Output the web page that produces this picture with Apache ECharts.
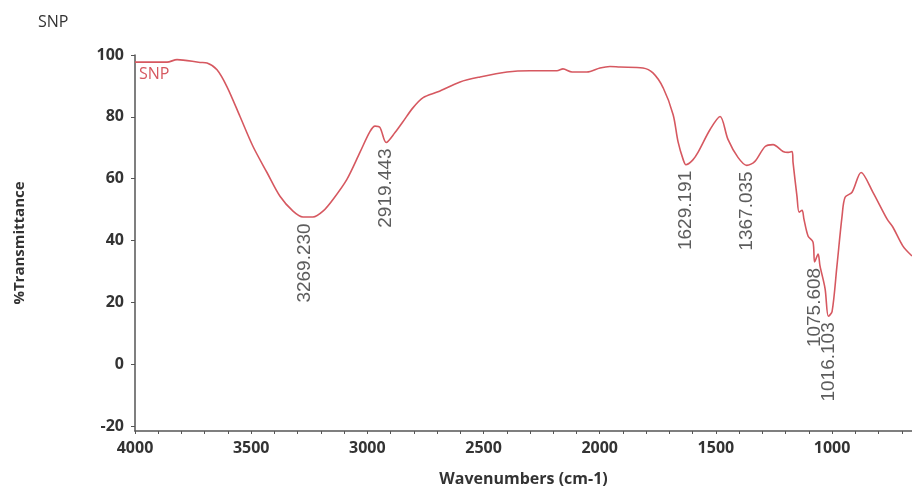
<!DOCTYPE html>
<html>
<head>
<meta charset="utf-8">
<script src="https://cdn.jsdelivr.net/npm/echarts@6/dist/echarts.min.js"></script>
<style>
  html, body { margin: 0; padding: 0; background: #ffffff; }
  #chart { width: 912px; height: 492px; }
</style>
</head>
<body>
<div id="chart"></div>
<script>
// Spectrum: wavenumber (cm-1) and %Transmittance
var wavenumbers = [4000, 3862, 3819, 3720, 3690, 3647, 3604, 3548, 3492, 3432, 3376, 3320, 3277, 3234, 3191, 3148, 3088, 3032, 2989, 2967, 2946, 2919, 2881, 2847, 2804, 2760, 2696, 2601, 2515, 2399, 2300, 2184, 2158, 2119, 2055, 1999, 1956, 1913, 1814, 1771, 1727, 1684, 1663, 1640, 1629, 1600, 1577, 1525, 1482, 1448, 1405, 1367, 1332, 1288, 1254, 1211, 1189, 1172, 1168, 1151, 1142, 1129, 1121, 1103, 1082, 1075, 1060, 1052, 1030, 1016, 1000, 979, 957, 944, 914, 875, 824, 763, 738, 695, 656];
var transmittance = [97.7, 97.7, 98.5, 97.6, 97.4, 95.2, 89.7, 80.1, 70.4, 62.0, 54.3, 49.5, 47.6, 47.6, 49.5, 53.3, 59.8, 68.5, 75.2, 77.0, 76.6, 71.7, 74.9, 78.4, 82.9, 86.2, 88.1, 91.3, 92.9, 94.5, 94.9, 94.9, 95.5, 94.5, 94.5, 95.8, 96.3, 96.1, 95.8, 94.2, 89.4, 80.7, 72.0, 66.0, 64.5, 66.0, 68.5, 75.9, 80.1, 72.7, 66.9, 64.3, 65.6, 70.4, 71.0, 68.8, 68.5, 68.8, 65.3, 54.3, 49.2, 49.8, 46.9, 41.4, 39.5, 33.1, 35.6, 31.8, 24.4, 15.5, 17.0, 31.8, 47.9, 54.0, 55.6, 62.0, 55.6, 46.9, 44.3, 38.2, 35.0];

// Labelled peaks
var peakWavenumbers = [3269.230, 2919.443, 1629.191, 1367.035, 1075.608, 1016.103];
var peakValues = [47.5, 71.7, 64.5, 64.3, 33.1, 15.5];
var peakLabels = ['3269.230', '2919.443', '1629.191', '1367.035', '1075.608', '1016.103'];

// Axis ticks
var xTickLabels = [4000, 3500, 3000, 2500, 2000, 1500, 1000];
var xMinorTicks = [4000, 3900, 3800, 3700, 3600, 3500, 3400, 3300, 3200, 3100, 3000, 2900, 2800, 2700, 2600, 2500, 2400, 2300, 2200, 2100, 2000, 1900, 1800, 1700, 1600, 1500, 1400, 1300, 1200, 1100, 1000, 900, 800, 700];
var yTickLabels = [-20, 0, 20, 40, 60, 80, 100];

var seriesName = 'SNP';
var chartTitle = 'SNP';

var lineData = wavenumbers.map(function (w, i) { return [w, transmittance[i]]; });
var peakData = peakWavenumbers.map(function (w, i) {
  return { value: [w, peakValues[i]], name: peakLabels[i] };
});

var chart = echarts.init(document.getElementById('chart'), null, { renderer: 'canvas' });
var axisColor = '#555555';
var textColor = '#333333';
var lineColor = '#d65860';
var boldFont = '"Open Sans", "Noto Sans", sans-serif';

chart.setOption({
  animation: false,
  backgroundColor: '#ffffff',
  title: {
    text: chartTitle,
    left: 33,
    top: 9,
    textStyle: { fontFamily: boldFont, fontSize: 16, fontWeight: 'normal', color: textColor }
  },
  legend: {
    data: [seriesName],
    left: 129,
    top: 61,
    icon: 'none',
    itemWidth: 0,
    itemHeight: 0,
    textStyle: { fontFamily: boldFont, fontSize: 16, color: lineColor }
  },
  grid: { left: 135, right: 0, top: 55, bottom: 59 },
  xAxis: {
    type: 'value',
    inverse: true,
    min: 656,
    max: 4000,
    name: 'Wavenumbers (cm-1)',
    nameLocation: 'middle',
    nameGap: 40,
    nameTextStyle: { fontFamily: boldFont, fontSize: 16, fontWeight: 'bold', color: textColor },
    axisLine: { show: true, onZero: false, lineStyle: { color: axisColor, width: 1.5 } },
    axisTick: { show: true, inside: false, length: 3, customValues: xMinorTicks, lineStyle: { color: axisColor } },
    axisLabel: {
      customValues: xTickLabels,
      formatter: function (v) { return String(v); },
      margin: 9,
      fontFamily: boldFont, fontSize: 16, fontWeight: 'bold', color: textColor
    },
    splitLine: { show: false }
  },
  yAxis: {
    type: 'value',
    min: -21.6,
    max: 100,
    name: '%Transmittance',
    nameLocation: 'middle',
    nameRotate: 90,
    nameGap: 108,
    nameTextStyle: { fontFamily: boldFont, fontSize: 15, fontWeight: 'bold', color: textColor },
    axisLine: { show: true, onZero: false, lineStyle: { color: axisColor, width: 1.5 } },
    axisTick: { show: true, inside: false, length: 4, customValues: yTickLabels, lineStyle: { color: axisColor } },
    axisLabel: {
      customValues: yTickLabels,
      formatter: function (v) { return String(v); },
      margin: 11,
      fontFamily: boldFont, fontSize: 16, fontWeight: 'bold', color: textColor
    },
    splitLine: { show: false }
  },
  series: [
    {
      name: seriesName,
      type: 'line',
      data: lineData,
      showSymbol: false,
      smooth: 0.3,
      lineStyle: { color: lineColor, width: 1.6 },
      itemStyle: { color: lineColor },
      z: 3
    },
    {
      name: 'peaks',
      type: 'scatter',
      data: peakData,
      symbolSize: 0,
      silent: true,
      z: 4,
      label: {
        show: true,
        formatter: function (p) { return p.name; },
        position: [0, 6],
        rotate: 90,
        align: 'right',
        verticalAlign: 'middle',
        fontFamily: '"Liberation Sans", Arial, sans-serif',
        fontSize: 19,
        color: textColor
      }
    }
  ]
});
</script>
</body>
</html>
